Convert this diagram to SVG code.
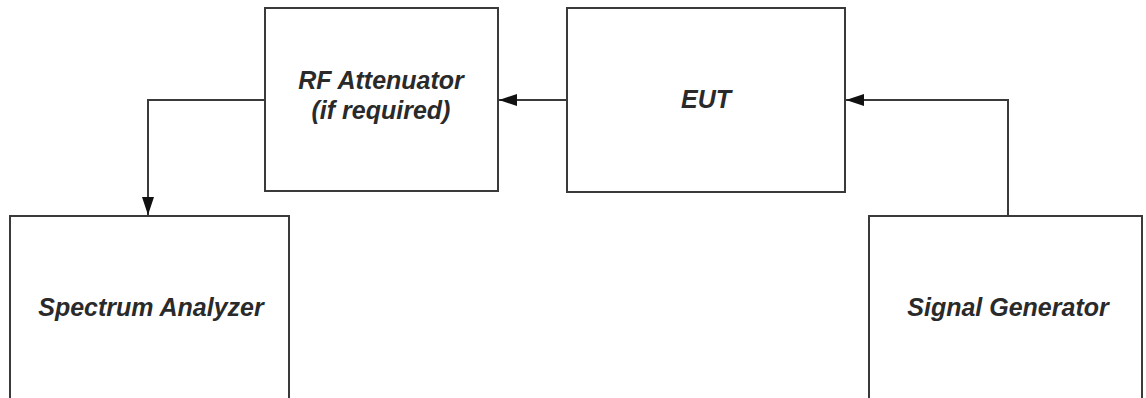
<svg xmlns="http://www.w3.org/2000/svg" width="1146" height="398" viewBox="0 0 1146 398">
<style>
.box{fill:#ffffff;stroke:#3a3a3a;stroke-width:2}
.lbl{font-family:"Liberation Sans",Arial,sans-serif;font-weight:bold;font-style:italic;font-size:25px;fill:#2a2a2a;text-anchor:middle}
.conn{fill:none;stroke:#3a3a3a;stroke-width:2}
</style>
<defs>
<marker id="arr" viewBox="0 0 18 12" refX="18" refY="6" markerWidth="18" markerHeight="12" markerUnits="userSpaceOnUse" orient="auto">
<path d="M0,0 L18,6 L0,12 z" fill="#111"/>
</marker>
</defs>
<rect width="1146" height="398" fill="#ffffff"/>
<g id="rf-attenuator">
<rect class="box" x="265" y="8" width="233" height="183"/>
<text class="lbl" x="381" y="89">RF Attenuator</text>
<text class="lbl" x="381" y="119">(if required)</text>
</g>
<g id="eut">
<rect class="box" x="567" y="8" width="278" height="184"/>
<text class="lbl" x="706" y="108">EUT</text>
</g>
<g id="spectrum-analyzer">
<rect class="box" x="10" y="216" width="279" height="200"/>
<text class="lbl" x="151" y="316">Spectrum Analyzer</text>
</g>
<g id="signal-generator">
<rect class="box" x="869" y="216" width="273" height="200"/>
<text class="lbl" x="1008" y="316">Signal Generator</text>
</g>
<g id="connectors">
<path class="conn" d="M567,100 H499" marker-end="url(#arr)"/>
<path class="conn" d="M265,100 H148 V215" marker-end="url(#arr)"/>
<path class="conn" d="M1008,216 V100 H846" marker-end="url(#arr)"/>
</g>
</svg>
